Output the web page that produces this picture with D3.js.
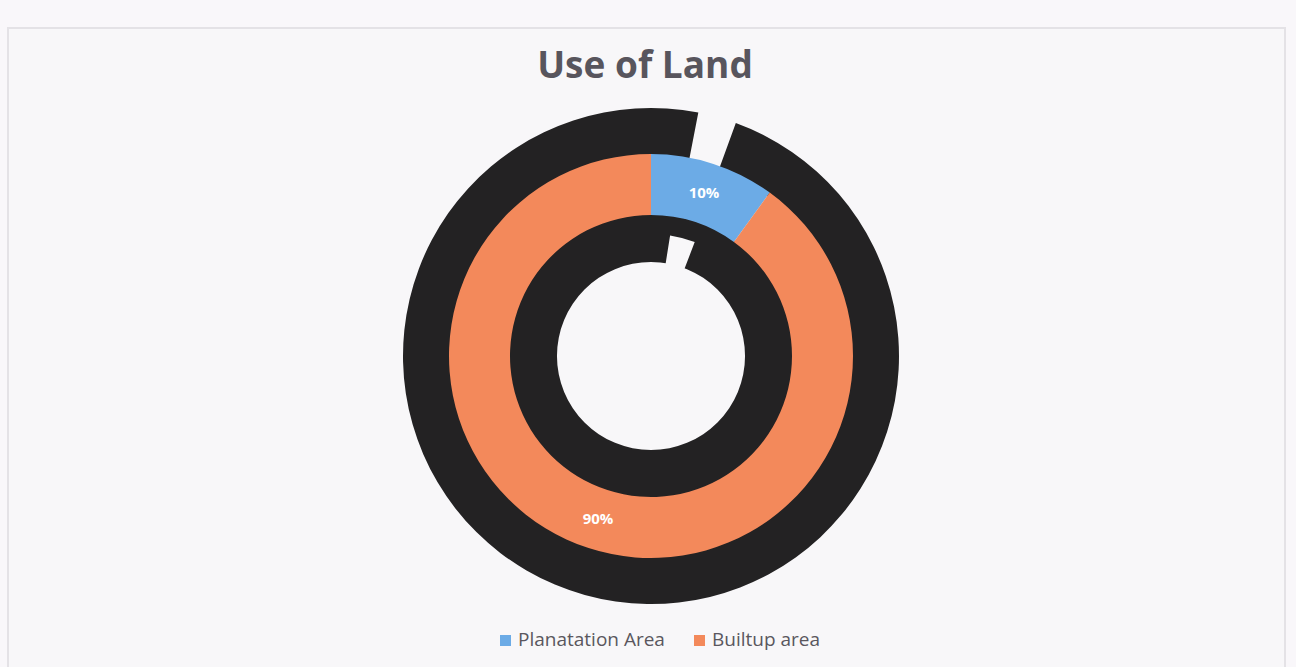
<!DOCTYPE html>
<html>
<head>
<meta charset="utf-8">
<script src="https://cdn.jsdelivr.net/npm/d3@7"></script>
<style>
  body { margin: 0; background: #f9f7fa; }
  svg { display: block; }
</style>
</head>
<body>
<div id="chart"></div>
<script>
// data
const categories = ['Planatation Area', 'Builtup area'];
const shares = [10, 90];
const colors = ['#6cabe6', '#f3895b'];

const width = 1296,
      height = 667,
      cx = 651,
      cy = 356,
      innerR = 141,
      outerR = 202;

const svg = d3.select('#chart')
              .append('svg')
              .attr('width', width)
              .attr('height', height);

// faint chart frame
svg.append('rect')
   .attr('x', 8).attr('y', 28)
   .attr('width', 1277).attr('height', 640)
   .attr('fill', '#f8f7f9')
   .attr('stroke', '#e4e2e6')
   .attr('stroke-width', 2);

svg.append('text')
   .attr('x', 645)
   .attr('y', 78)
   .attr('text-anchor', 'middle')
   .attr('font-family', 'Open Sans, sans-serif')
   .attr('font-weight', 700)
   .attr('font-size', 37)
   .attr('fill', '#58555d')
   .text('Use of Land');

const g = svg.append('g')
             .attr('transform', 'translate(' + cx + ',' + cy + ')');

const deg = Math.PI / 180;

// dark scan blotches around the ring (not data)
g.append('path')
 .attr('d', d3.arc().innerRadius(198).outerRadius(248)
              .startAngle(20 * deg).endAngle(371 * deg)())
 .attr('fill', '#232223');
g.append('path')
 .attr('d', d3.arc().innerRadius(94).outerRadius(142)
              .startAngle(0).endAngle(2 * Math.PI)())
 .attr('fill', '#232223');
g.append('path')
 .attr('d', d3.arc().innerRadius(90).outerRadius(122)
              .startAngle(9 * deg).endAngle(21 * deg)())
 .attr('fill', '#f8f7f9');

const pie = d3.pie().sort(null).value(d => d.value);
const arcs = pie(categories.map((c, i) => ({ name: c, value: shares[i] })));

const arc = d3.arc().innerRadius(innerR).outerRadius(outerR);

g.selectAll('path.slice')
 .data(arcs)
 .enter()
 .append('path')
 .attr('class', 'slice')
 .attr('d', arc)
 .attr('fill', (d, i) => colors[i]);

const total = d3.sum(shares);
g.selectAll('text.lbl')
 .data(arcs)
 .enter()
 .append('text')
 .attr('class', 'lbl')
 .attr('transform', d => 'translate(' + arc.centroid(d) + ')')
 .attr('dy', '0.35em')
 .attr('text-anchor', 'middle')
 .attr('font-family', 'Open Sans, sans-serif')
 .attr('font-weight', 700)
 .attr('font-size', 15)
 .attr('fill', '#ffffff')
 .text(d => Math.round(d.data.value / total * 100) + '%');

// legend
const legendX = [500, 694];
const legend = svg.selectAll('g.legend')
                  .data(categories)
                  .enter()
                  .append('g')
                  .attr('class', 'legend')
                  .attr('transform', (d, i) => 'translate(' + legendX[i] + ',646)');

legend.append('rect')
      .attr('x', 0).attr('y', -11)
      .attr('width', 11).attr('height', 11)
      .attr('fill', (d, i) => colors[i]);

legend.append('text')
      .attr('x', 18)
      .attr('y', 0)
      .attr('font-family', 'Open Sans, sans-serif')
      .attr('font-size', 19)
      .attr('fill', '#5a575e')
      .text(d => d);
</script>
</body>
</html>
